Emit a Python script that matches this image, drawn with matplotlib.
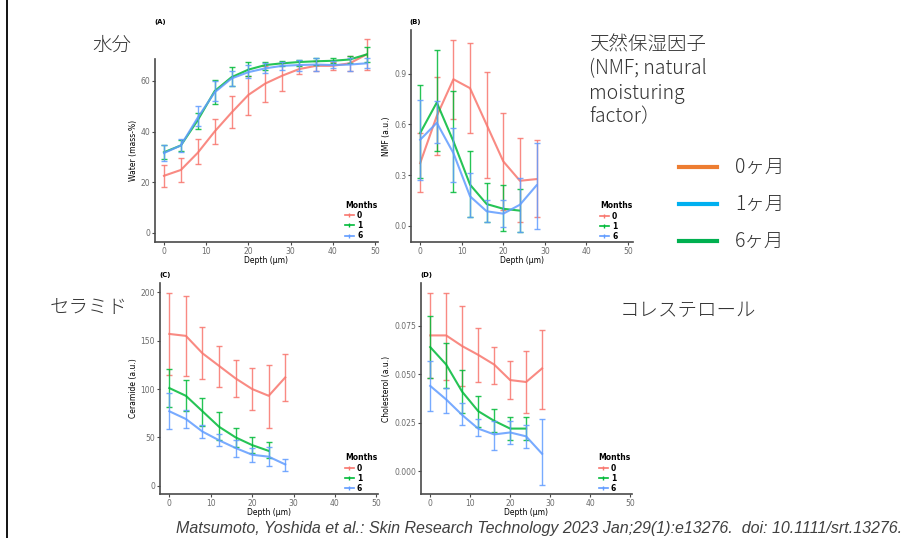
import matplotlib
matplotlib.use('Agg')
import matplotlib.pyplot as plt
from matplotlib.lines import Line2D

W, H = 902, 538

# ---- data ----
depth_a = [0, 4, 8, 12, 16, 20, 24, 28, 32, 36, 40, 44, 48]
water_0 = [22.5, 24.8, 31.6, 40.0, 47.5, 54.5, 59.0, 62.1, 64.7, 66.0, 66.0, 67.0, 70.5]
water_0_lo = [18.2, 20.2, 27.2, 35.2, 41.3, 46.6, 51.8, 56.1, 62.9, 63.8, 64.5, 64.0, 64.5]
water_0_hi = [26.8, 29.4, 37.2, 44.8, 54.0, 62.0, 66.0, 67.3, 66.5, 68.0, 67.5, 70.0, 76.5]
water_1 = [31.8, 34.5, 44.5, 56.0, 61.5, 64.5, 66.3, 67.0, 67.5, 67.8, 68.0, 68.5, 70.5]
water_1_lo = [29.0, 32.5, 41.0, 51.0, 58.0, 62.0, 64.5, 66.0, 66.0, 66.5, 67.0, 67.0, 67.5]
water_1_hi = [34.5, 36.8, 47.5, 60.5, 65.5, 67.5, 67.5, 68.0, 68.5, 69.0, 69.0, 70.0, 73.5]
water_6 = [31.5, 34.5, 45.5, 55.5, 61.0, 63.5, 65.0, 66.0, 66.3, 66.5, 66.3, 66.5, 67.0]
water_6_lo = [28.5, 32.0, 42.0, 52.0, 58.0, 61.0, 63.0, 64.5, 64.0, 64.0, 65.0, 64.0, 65.0]
water_6_hi = [34.5, 37.0, 50.0, 60.0, 64.0, 66.5, 67.0, 67.5, 68.5, 69.0, 68.0, 69.0, 69.0]

depth_8 = [0, 4, 8, 12, 16, 20, 24, 28]
depth_7 = [0, 4, 8, 12, 16, 20, 24]

nmf_0 = [0.37, 0.65, 0.868, 0.815, 0.598, 0.381, 0.266, 0.276]
nmf_0_lo = [0.197, 0.42, 0.63, 0.55, 0.28, 0.09, 0.02, 0.05]
nmf_0_hi = [0.549, 0.88, 1.10, 1.08, 0.91, 0.67, 0.52, 0.51]
nmf_1 = [0.549, 0.73, 0.50, 0.243, 0.128, 0.10, 0.089]
nmf_1_lo = [0.28, 0.44, 0.20, 0.05, 0.02, -0.03, -0.04]
nmf_1_hi = [0.835, 1.04, 0.80, 0.44, 0.25, 0.24, 0.22]
nmf_6 = [0.509, 0.61, 0.43, 0.174, 0.085, 0.071, 0.124, 0.239]
nmf_6_lo = [0.27, 0.49, 0.26, 0.05, 0.02, -0.01, -0.04, -0.02]
nmf_6_hi = [0.745, 0.74, 0.58, 0.31, 0.15, 0.15, 0.28, 0.49]

cer_0 = [157, 155, 137, 124, 111, 100, 93, 112]
cer_0_lo = [114, 113, 110, 102, 92, 78, 60, 88]
cer_0_hi = [199, 196, 164, 145, 130, 122, 125, 136]
cer_1 = [101, 93, 77, 61, 50, 42, 36]
cer_1_lo = [81, 77, 62, 47, 40, 34, 29]
cer_1_hi = [121, 109, 91, 76, 60, 50, 45]
cer_6 = [77, 69, 56, 47, 39, 32, 30, 22]
cer_6_lo = [59, 60, 49, 41, 30, 24, 20, 15]
cer_6_hi = [96, 78, 63, 53, 47, 39, 40, 28]

chol_0 = [0.070, 0.070, 0.0645, 0.060, 0.055, 0.047, 0.046, 0.053]
chol_0_lo = [0.048, 0.047, 0.044, 0.046, 0.045, 0.037, 0.030, 0.032]
chol_0_hi = [0.092, 0.092, 0.085, 0.074, 0.064, 0.057, 0.062, 0.073]
chol_1 = [0.064, 0.055, 0.041, 0.031, 0.026, 0.022, 0.022]
chol_1_lo = [0.048, 0.043, 0.030, 0.023, 0.020, 0.016, 0.016]
chol_1_hi = [0.080, 0.066, 0.052, 0.039, 0.032, 0.028, 0.028]
chol_6 = [0.044, 0.037, 0.029, 0.022, 0.019, 0.020, 0.018, 0.009]
chol_6_lo = [0.031, 0.030, 0.024, 0.018, 0.011, 0.014, 0.012, -0.007]
chol_6_hi = [0.057, 0.043, 0.035, 0.027, 0.026, 0.026, 0.024, 0.027]

months = ['0', '1', '6']
gg_colors = ['#F8766D', '#00BA38', '#619CFF']

legend_labels = ['0ヶ月', '1ヶ月', '6ヶ月']
legend_colors = ['#ED7D31', '#00B0F0', '#00B050']

fig = plt.figure(figsize=(W / 100, H / 100), dpi=100)
fig.patch.set_facecolor('white')


def px_axes(left, top, right, bottom):
    return fig.add_axes([left / W, 1 - bottom / H, (right - left) / W, (bottom - top) / H])


def draw_panel(box, xlim, ylim, yticks, ytick_fmt, ylabel, tag, tag_xy, series):
    ax = px_axes(*box)
    for (x, y, lo, hi), c, m in zip(series, gg_colors, months):
        ax.plot(x, y, color=c, lw=1.5, alpha=0.85, clip_on=False)
        ax.errorbar(x, y, yerr=[[a - b for a, b in zip(y, lo)], [b - a for a, b in zip(y, hi)]],
                    fmt='none', ecolor=c, elinewidth=1.0, capsize=2.2, capthick=1.0,
                    alpha=0.85, clip_on=False)
    ax.set_xlim(*xlim)
    ax.set_ylim(*ylim)
    ax.set_xticks([0, 10, 20, 30, 40, 50])
    ax.set_yticks(yticks)
    ax.set_yticklabels([ytick_fmt.format(v) for v in yticks])
    for s in ['top', 'right']:
        ax.spines[s].set_visible(False)
    for s in ['left', 'bottom']:
        ax.spines[s].set_color('#4a4a4a')
        ax.spines[s].set_linewidth(1.2)
    ax.tick_params(colors='#4a4a4a', labelcolor='#6b6b6b', labelsize=5.5, length=2, width=0.8, pad=1.5)
    ax.set_xlabel('Depth (μm)', fontsize=5.5, labelpad=0)
    ax.set_ylabel(ylabel, fontsize=5.5, labelpad=2)
    ax.set_facecolor('none')
    fig.text(tag_xy[0] / W, 1 - tag_xy[1] / H, tag, fontsize=5, fontweight='bold', ha='center', va='center')
    handles = [Line2D([], [], color=c, lw=1.2, marker='|', markersize=3) for c in gg_colors]
    leg = ax.legend(handles, months, title='Months', loc='lower right', bbox_to_anchor=(1.02, -0.02),
                    frameon=False, fontsize=5.5, title_fontsize=5.5, handlelength=1.2,
                    handletextpad=0.4, labelspacing=0.15, borderpad=0.2)
    leg._legend_box.align = 'left'
    for t in leg.get_texts():
        t.set_fontweight('bold')
    leg.get_title().set_fontweight('bold')
    return ax


draw_panel((155, 59, 378, 242), (-2.13, 50.7), (-3.7, 68.7), [0, 20, 40, 60], '{:g}',
           'Water (mass-%)', '(A)', (160, 22),
           [(depth_a, water_0, water_0_lo, water_0_hi),
            (depth_a, water_1, water_1_lo, water_1_hi),
            (depth_a, water_6, water_6_lo, water_6_hi)])

draw_panel((411, 30, 633, 242), (-2.2, 51.2), (-0.097, 1.16), [0.0, 0.3, 0.6, 0.9], '{:.1f}',
           'NMF (a.u.)', '(B)', (415, 22),
           [(depth_8, nmf_0, nmf_0_lo, nmf_0_hi),
            (depth_7, nmf_1, nmf_1_lo, nmf_1_hi),
            (depth_8, nmf_6, nmf_6_lo, nmf_6_hi)])

draw_panel((160, 283, 378, 494), (-2.25, 50.4), (-8.6, 209.7), [0, 50, 100, 150, 200], '{:g}',
           'Ceramide (a.u.)', '(C)', (165, 275),
           [(depth_8, cer_0, cer_0_lo, cer_0_hi),
            (depth_7, cer_1, cer_1_lo, cer_1_hi),
            (depth_8, cer_6, cer_6_lo, cer_6_hi)])

draw_panel((421, 283, 632, 494), (-2.3, 50.5), (-0.0117, 0.097), [0.0, 0.025, 0.05, 0.075], '{:.3f}',
           'Cholesterol (a.u.)', '(D)', (426, 275),
           [(depth_8, chol_0, chol_0_lo, chol_0_hi),
            (depth_7, chol_1, chol_1_lo, chol_1_hi),
            (depth_8, chol_6, chol_6_lo, chol_6_hi)])

# Japanese annotations
jp = ['Noto Sans CJK JP', 'DejaVu Sans']
ann = dict(fontsize=14, family=jp, color='#333333', va='center', ha='left', fontweight='light')
fig.text(92 / W, 1 - 45 / H, '水分', **ann)
fig.text(50 / W, 1 - 308 / H, 'セラミド', **ann)
fig.text(620 / W, 1 - 311 / H, 'コレステロール', **ann)
for i, line in enumerate(['天然保湿因子', '(NMF; natural', 'moisturing', 'factor）']):
    fig.text(589 / W, 1 - (45 + i * 24) / H, line, **ann)

# manual legend on the right
for i, (lab, c) in enumerate(zip(legend_labels, legend_colors)):
    y = 1 - (167 + i * 37) / H
    fig.add_artist(Line2D([679 / W, 717 / W], [y, y], color=c, lw=3))
    fig.text(735 / W, y, lab, **ann)

# left border line
fig.add_artist(Line2D([7.5 / W, 7.5 / W], [0, 1], color='black', lw=1.3))

fig.text(902 / W, 1 - 529 / H,
         'Matsumoto, Yoshida et al.: Skin Research Technology 2023 Jan;29(1):e13276.  doi: 10.1111/srt.13276.',
         fontsize=11.5, family='Liberation Sans', style='italic', color='#404040', ha='right', va='center')

fig.savefig('out.png', dpi=100)
